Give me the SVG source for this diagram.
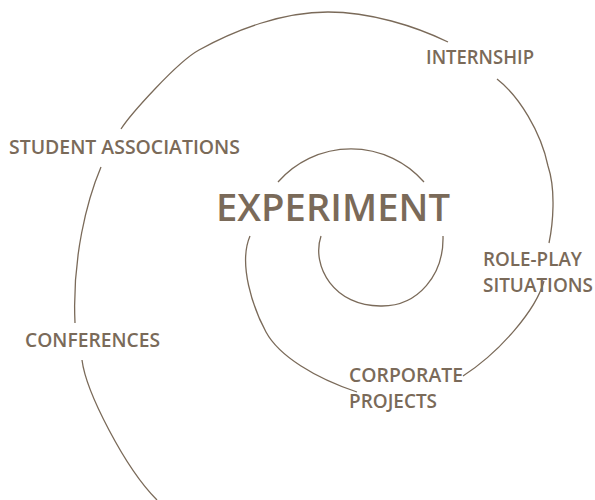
<svg xmlns="http://www.w3.org/2000/svg" width="595" height="500" viewBox="0 0 595 500">
<style>
.lbl{font-family:"Open Sans","Noto Sans","Liberation Sans",sans-serif;font-weight:600;font-size:19px;fill:#7a6a59}
.big{font-family:"Open Sans","Noto Sans","Liberation Sans",sans-serif;font-weight:600;font-size:38px;fill:#7a6a59}
.sp{fill:none;stroke:#7a6a59;stroke-width:1.3;stroke-linecap:butt}
</style>
<rect width="595" height="500" fill="#ffffff"/>
<g id="spiral">
<path class="sp" d="M321,236 C311,266 334,307 382,306 C418,306 444,275 443,236"/>
<path class="sp" d="M424,182 A97,97 0 0 0 278,182"/>
<path class="sp" d="M250,236 C238,264 253,308 266,332 C279,356 315,378 357,392"/>
<path class="sp" d="M463,376 C500,352 536,310 544,281"/>
<path class="sp" d="M549,243 C553,224 556,190 548,166 C541,132 519,96 497,79"/>
<path class="sp" d="M448,42 C415,26 370,12 328,12 C282,12 235,30 199,50 C177,62 130,115 121,129"/>
<path class="sp" d="M101,167 C87,200 72,258 75,323"/>
<path class="sp" d="M82,360 C86,392 125,468 157,500"/>
</g>
<g id="experiment"><text class="big" x="216" y="221" textLength="234" lengthAdjust="spacingAndGlyphs">EXPERIMENT</text></g>
<g id="internship"><text class="lbl" x="426" y="64" textLength="108" lengthAdjust="spacingAndGlyphs">INTERNSHIP</text></g>
<g id="student-associations"><text class="lbl" x="9" y="154" textLength="231" lengthAdjust="spacingAndGlyphs">STUDENT ASSOCIATIONS</text></g>
<g id="role-play"><text class="lbl" x="483" y="266" textLength="99" lengthAdjust="spacingAndGlyphs">ROLE-PLAY</text><text class="lbl" x="483" y="292" textLength="110" lengthAdjust="spacingAndGlyphs">SITUATIONS</text></g>
<g id="conferences"><text class="lbl" x="25" y="347" textLength="135" lengthAdjust="spacingAndGlyphs">CONFERENCES</text></g>
<g id="corporate-projects"><text class="lbl" x="349" y="382" textLength="114" lengthAdjust="spacingAndGlyphs">CORPORATE</text><text class="lbl" x="349" y="408" textLength="88" lengthAdjust="spacingAndGlyphs">PROJECTS</text></g>
</svg>
